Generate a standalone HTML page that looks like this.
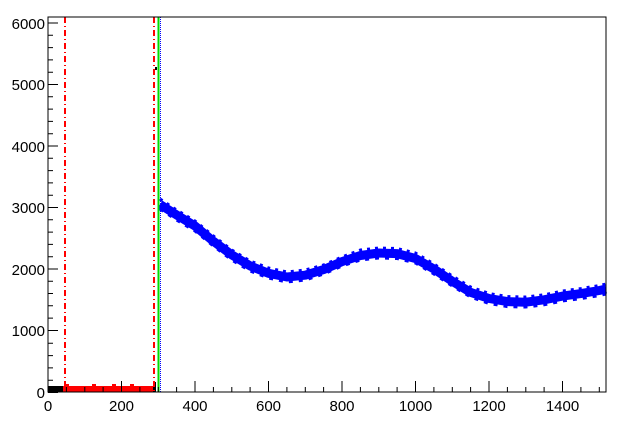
<!DOCTYPE html>
<html><head><style>html,body{margin:0;padding:0;background:#fff}svg{display:block}</style></head>
<body>
<svg width="626" height="424" xmlns="http://www.w3.org/2000/svg" font-family="Liberation Sans, Arial, sans-serif" font-size="15">
<rect width="626" height="424" fill="#fff"/>
<polyline fill="none" stroke="#0000ff" stroke-width="9" stroke-linejoin="round" points="160,204.4 176.6,214.9 195,226 213.4,241.3 231.8,254.9 250.1,265.9 268.5,273.3 286.9,277 305.3,275.2 323.6,269.6 342,261.6 360.4,255.5 378.8,253 397.1,253.6 415.5,258.5 433.9,269 452.3,281.3 470.6,292.4 489,298.5 507.4,301.6 525.8,302.2 544.1,299.8 562.5,296.1 580.9,293.6 599.3,290.5 606,289"/>
<polyline fill="none" stroke="#0000ff" stroke-width="3" stroke-dasharray="3,5" points="160,199 176.6,210 195,221 213.4,236 231.8,250 250.1,261 268.5,268 286.9,272 305.3,270 323.6,265 342,257 360.4,250 378.8,248 397.1,248.5 415.5,253 433.9,264 452.3,276 470.6,287 489,293.5 507.4,296.6 525.8,297 544.1,294.8 562.5,291 580.9,288.6 599.3,285.5 606,284"/>
<polyline fill="none" stroke="#0000ff" stroke-width="3" stroke-dasharray="4,6" points="160,209 176.6,220 195,231 213.4,246 231.8,260 250.1,271 268.5,278 286.9,282 305.3,280 323.6,274 342,266 360.4,260 378.8,258 397.1,258.5 415.5,263 433.9,274 452.3,286 470.6,297 489,303.5 507.4,306.6 525.8,307 544.1,304.8 562.5,301 580.9,298.6 599.3,295.5 606,294"/>
<rect x="48" y="386" width="16" height="6" fill="#000"/>
<rect x="63" y="386" width="91" height="6" fill="#ff0000"/>
<rect x="65" y="384" width="4" height="2" fill="#ff0000"/><rect x="92" y="384" width="4" height="2" fill="#ff0000"/><rect x="112" y="384" width="4" height="2" fill="#ff0000"/><rect x="130" y="384" width="4" height="2" fill="#ff0000"/>
<rect x="153" y="382" width="3" height="10" fill="#000"/>
<line x1="65" y1="17" x2="65" y2="392" stroke="#ff0000" stroke-width="2" stroke-dasharray="6,3,1,3"/>
<line x1="154" y1="17" x2="154" y2="392" stroke="#ff0000" stroke-width="2" stroke-dasharray="6,3,1,3"/>
<line x1="158.5" y1="17" x2="158.5" y2="392" stroke="#00dd00" stroke-width="2"/>
<line x1="160.5" y1="17" x2="160.5" y2="392" stroke="#0000ff" stroke-width="1" stroke-dasharray="1,1"/>
<rect x="155" y="67" width="2" height="3" fill="#000"/>
<rect x="48" y="17" width="558" height="375" fill="none" stroke="#000" stroke-width="1"/>
<g stroke="#000" stroke-width="1">
<path d="M48,392.5h10M48,330.5h10M48,269h10M48,207.5h10M48,146h10M48,84.5h10M48,23h10"/>
<path d="M48,380.2h5M48,367.9h5M48,355.6h5M48,343.3h5M48,318.1h5M48,305.8h5M48,293.5h5M48,281.2h5M48,256.7h5M48,244.4h5M48,232.1h5M48,219.8h5M48,195.2h5M48,182.9h5M48,170.6h5M48,158.3h5M48,133.7h5M48,121.4h5M48,109.1h5M48,96.8h5M48,72.2h5M48,59.9h5M48,47.6h5M48,35.3h5"/>
<path d="M121.5,392v-11M195,392v-11M268.5,392v-11M342,392v-11M415.5,392v-11M489,392v-11M562.5,392v-11"/>
<path d="M66.4,392v-5M84.8,392v-5M103.1,392v-5M139.9,392v-5M158.3,392v-5M176.6,392v-5M213.4,392v-5M231.8,392v-5M250.1,392v-5M286.9,392v-5M305.3,392v-5M323.6,392v-5M360.4,392v-5M378.8,392v-5M397.1,392v-5M433.9,392v-5M452.3,392v-5M470.6,392v-5M507.4,392v-5M525.8,392v-5M544.1,392v-5M580.9,392v-5M599.3,392v-5"/>
</g>
<g text-anchor="end">
<text x="45" y="398">0</text><text x="45" y="336">1000</text><text x="45" y="275">2000</text><text x="45" y="213">3000</text><text x="45" y="152">4000</text><text x="45" y="90">5000</text><text x="45" y="29">6000</text>
</g>
<g text-anchor="middle">
<text x="48" y="411">0</text><text x="121.5" y="411">200</text><text x="195" y="411">400</text><text x="268.5" y="411">600</text><text x="342" y="411">800</text><text x="415.5" y="411">1000</text><text x="489" y="411">1200</text><text x="562.5" y="411">1400</text>
</g>
</svg>
</body></html>
